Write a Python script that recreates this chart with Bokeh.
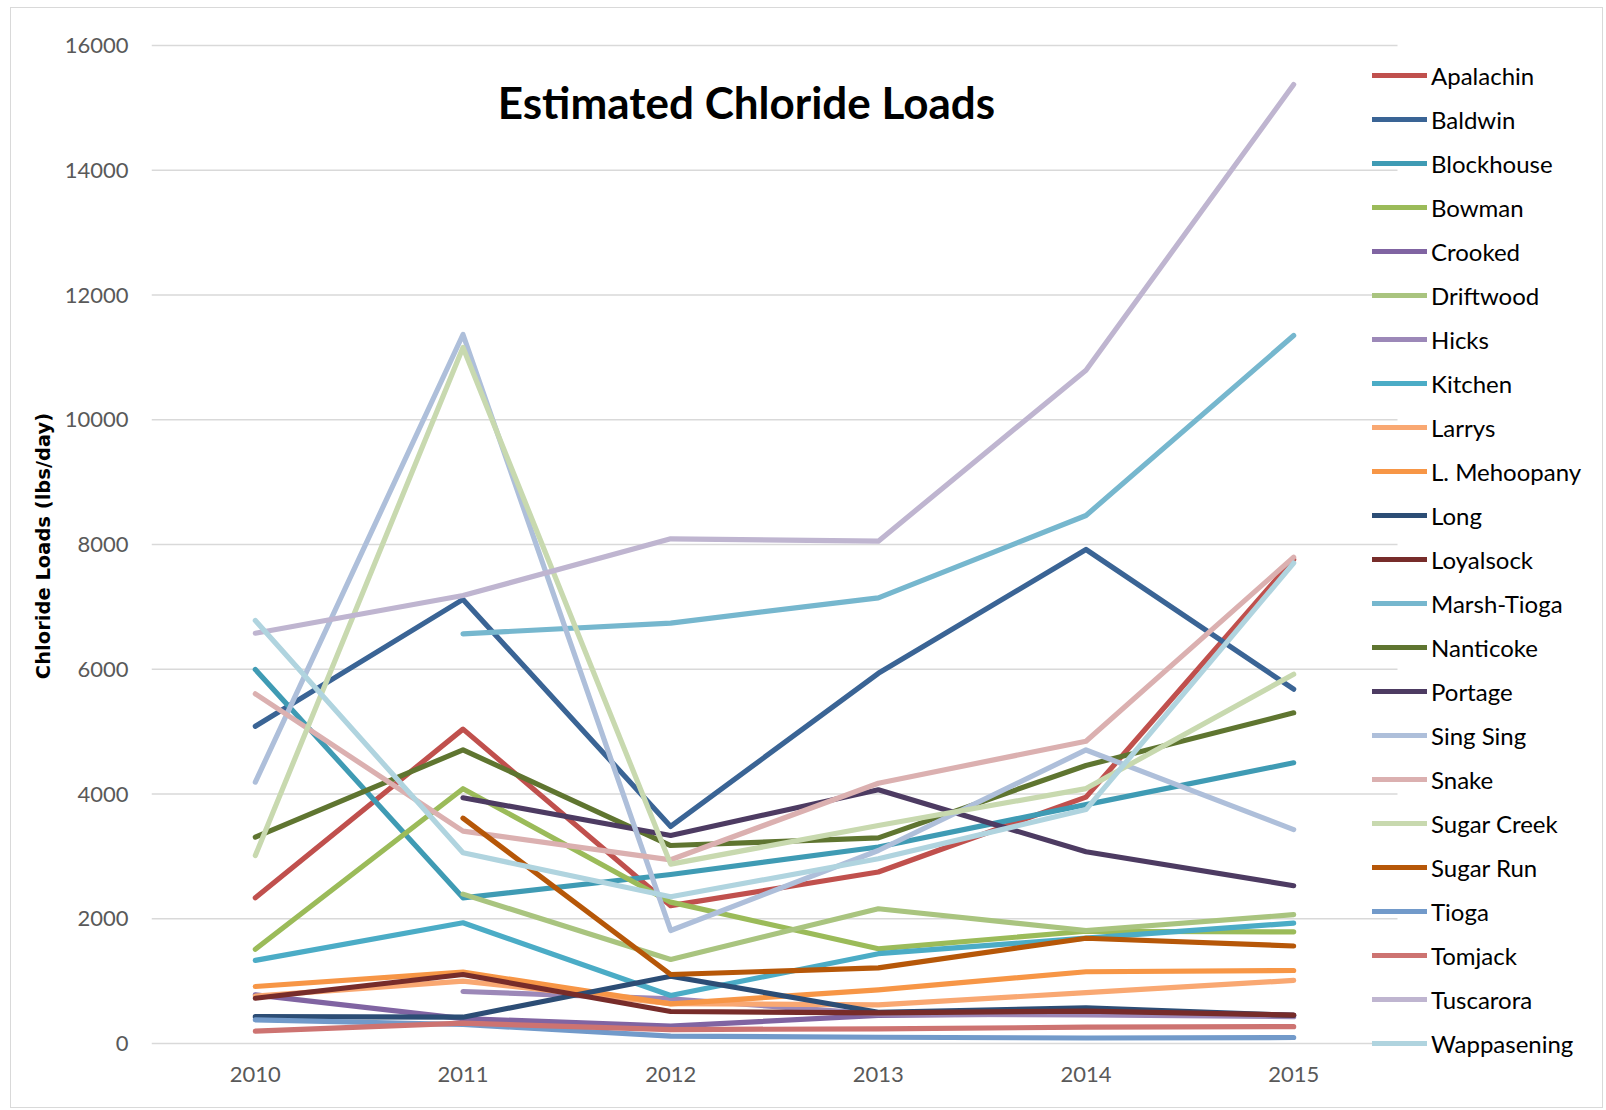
from bokeh.plotting import figure
from bokeh.models import (Legend, LegendItem, FixedTicker, Label, Range1d,
                          InlineStyleSheet)
from bokeh.embed import file_html
from bokeh.resources import INLINE
import numpy as np

# Sampling years
years = [2010, 2011, 2012, 2013, 2014, 2015]

# Estimated chloride loads (lbs/day) per stream; None = not sampled
apalachin    = [2335, 5040, 2210, 2750, 3950, 7760]
baldwin      = [5085, 7120, 3480, 5935, 7920, 5680]
blockhouse   = [5996, 2335, 2710, 3150, 3830, 4500]
bowman       = [1510, 4085, 2266, 1518, 1800, 1790]
crooked      = [780, 400, 278, 450, 480, 450]
driftwood    = [None, 2395, 1347, 2160, 1812, 2065]
hicks        = [None, 834, 716, 470, 460, 430]
kitchen      = [1332, 1935, 770, 1440, 1690, 1930]
larrys       = [760, 1000, 640, 620, 815, 1012]
l_mehoopany  = [914, 1145, 636, 860, 1150, 1170]
long_        = [430, 422, 1079, 500, 570, 450]
loyalsock    = [726, 1106, 513, 490, 520, 455]
marsh_tioga  = [None, 6568, 6740, 7145, 8465, 11350]
nanticoke    = [3308, 4708, 3174, 3297, 4458, 5301]
portage      = [None, 3939, 3335, 4067, 3075, 2530]
sing_sing    = [4190, 11367, 1812, 3094, 4706, 3430]
snake        = [5606, 3404, 2945, 4173, 4846, 7797]
sugar_creek  = [3014, 11158, 2876, 3495, 4087, 5919]
sugar_run    = [None, 3612, 1106, 1213, 1687, 1563]
tioga        = [380, 305, 118, 100, 88, 96]
tomjack      = [198, 326, 224, 235, 261, 270]
tuscarora    = [6578, 7182, 8091, 8053, 10794, 15375]
wappasening  = [6781, 3057, 2352, 2961, 3750, 7702]

series = [
    ("Apalachin",    apalachin,   "#C0504D"),
    ("Baldwin",      baldwin,     "#3A6495"),
    ("Blockhouse",   blockhouse,  "#3F9BB4"),
    ("Bowman",       bowman,      "#9BBB59"),
    ("Crooked",      crooked,     "#8064A2"),
    ("Driftwood",    driftwood,   "#A9C47F"),
    ("Hicks",        hicks,       "#9C88B8"),
    ("Kitchen",      kitchen,     "#4BACC6"),
    ("Larrys",       larrys,      "#F9A872"),
    ("L. Mehoopany", l_mehoopany, "#F79646"),
    ("Long",         long_,       "#2C4D75"),
    ("Loyalsock",    loyalsock,   "#772C2A"),
    ("Marsh-Tioga",  marsh_tioga, "#76B7CE"),
    ("Nanticoke",    nanticoke,   "#5F7530"),
    ("Portage",      portage,     "#4D3B62"),
    ("Sing Sing",    sing_sing,   "#AEBFDA"),
    ("Snake",        snake,       "#DBB0B0"),
    ("Sugar Creek",  sugar_creek, "#C8D9AF"),
    ("Sugar Run",    sugar_run,   "#B65708"),
    ("Tioga",        tioga,       "#729ACA"),
    ("Tomjack",      tomjack,     "#CD7371"),
    ("Tuscarora",    tuscarora,   "#BFB5D0"),
    ("Wappasening",  wappasening, "#B0D4DF"),
]

y_ticks = [0, 2000, 4000, 6000, 8000, 10000, 12000, 14000, 16000]

# Pixel scale of the value axes
PX_PER_YEAR = 207.667
PX_PER_UNIT = 998 / 16000

# The plot frame runs to the right edge and a little past both ends of the
# value axis so that the legend (which overlaps the end of the gridlines) is
# never clipped; the gridlines themselves stop at the last category.
FRAME_W, FRAME_BELOW, FRAME_ABOVE = 1449, 20, 17
x_start, x_end_grid = 2009.5, 2015.5
x_end = x_start + FRAME_W / PX_PER_YEAR
y_start = -FRAME_BELOW / PX_PER_UNIT
y_end = 16000 + FRAME_ABOVE / PX_PER_UNIT

p = figure(width=1591, height=1099,
           x_range=Range1d(x_start, x_end), y_range=Range1d(y_start, y_end),
           output_backend="svg", toolbar_location=None,
           min_border_left=140, min_border_right=2,
           min_border_top=37 - FRAME_ABOVE, min_border_bottom=44)
p.background_fill_color = "white"
p.border_fill_color = "white"
p.outline_line_color = None
# thin grey frame around the whole chart
p.stylesheets = [InlineStyleSheet(css=(
    ":host { margin: 8px 0 0 11px; "
    "outline: 1.5px solid #D9D9D9; outline-offset: 0px; }"))]

p.xgrid.grid_line_color = None
p.ygrid.grid_line_color = None
p.segment(x0=[x_start] * len(y_ticks), x1=[x_end_grid] * len(y_ticks),
          y0=y_ticks, y1=y_ticks, line_color="#D9D9D9", line_width=1.3)

p.xaxis.ticker = FixedTicker(ticks=years)
p.yaxis.ticker = FixedTicker(ticks=y_ticks)
for ax in (p.xaxis, p.yaxis):
    ax.major_tick_line_color = None
    ax.minor_tick_line_color = None
    ax.axis_line_color = None
    ax.major_label_text_font = "Lato"
    ax.major_label_text_font_size = "22px"
    ax.major_label_text_color = "#595959"
p.xaxis.major_label_standoff = 17 - FRAME_BELOW
p.yaxis.major_label_standoff = 17

p.yaxis.axis_label = "Chloride Loads (lbs/day)"
p.yaxis.axis_label_text_font = "DejaVu Sans"
p.yaxis.axis_label_text_font_style = "bold"
p.yaxis.axis_label_text_font_size = "19.5px"
p.yaxis.axis_label_text_color = "black"
p.yaxis.axis_label_standoff = 7

items = []
for name, vals, color in series:
    ys = np.array([np.nan if v is None else v for v in vals], dtype=float)
    r = p.line(years, ys, line_color=color, line_width=5.2,
               line_cap="round", line_join="round")
    items.append(LegendItem(label=name, renderers=[r]))

legend = Legend(items=items, location=(1221, 5),
                glyph_width=55, glyph_height=30, label_height=30,
                spacing=14, padding=0, margin=0, label_standoff=4,
                label_text_font="Lato", label_text_font_size="24px",
                label_text_color="black",
                border_line_color=None, background_fill_alpha=0)
p.add_layout(legend)

p.add_layout(Label(x=2012.365, y=15102, text="Estimated Chloride Loads",
                   text_font="Lato", text_font_style="bold",
                   text_font_size="44px", text_align="center",
                   text_baseline="middle", text_color="black"))

open("out.html", "w").write(file_html(p, INLINE))
